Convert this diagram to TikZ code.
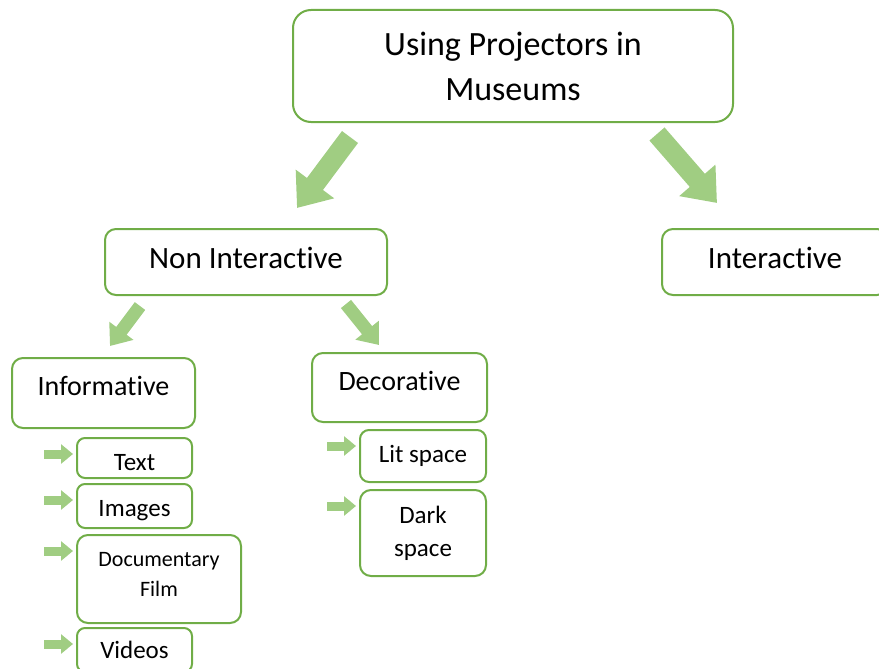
\documentclass[tikz,border=0pt]{standalone}
\usepackage{fontspec}
\setmainfont{Carlito}[Ligatures=NoCommon]
\usetikzlibrary{arrows.meta}
\definecolor{boxgreen}{RGB}{112,173,71}
\definecolor{arrowgreen}{RGB}{160,205,130}
\newcommand{\fsize}[2]{\fontsize{#1}{#2}\selectfont}

\begin{document}
\begin{tikzpicture}[x=1pt,y=-1pt,
  box/.style={draw=boxgreen, line width=2pt, rounded corners=11pt, align=center, inner sep=0pt},
  bigarrow/.style={draw=arrowgreen, line width=20pt, -{Triangle[width=46pt,length=30pt]}},
  midarrow/.style={draw=arrowgreen, line width=13pt, -{Triangle[width=29pt,length=19pt]}},
  tinyarrow/.style={draw=arrowgreen, line width=9pt, -{Triangle[width=19pt,length=12pt]}}]
\useasboundingbox (0,0) rectangle (879,669);
\clip (0,0) rectangle (879,669);
% top level
\node[box, rounded corners=18pt, minimum width=440pt, minimum height=112pt, font=\fsize{34}{45}] (top) at (513,66) {Using Projectors in\\Museums};
\node[box, minimum width=282pt, minimum height=66pt, text depth=8pt, font=\fsize{31}{38}] (ni) at (246,262) {Non Interactive};
\node[box, minimum width=226pt, minimum height=66pt, text depth=8pt, font=\fsize{31}{38}] (inter) at (775,262) {Interactive};
% second level
\node[box, minimum width=183pt, minimum height=70pt, text depth=14pt, font=\fsize{28}{34}] (info) at (103.5,393) {Informative};
\node[box, minimum width=175pt, minimum height=69pt, text depth=14pt, font=\fsize{28}{34}] (deco) at (399.5,387.5) {Decorative};
% leaves
\node[box, rounded corners=8pt, minimum width=115pt, minimum height=40pt, text height=26pt, font=\fsize{25}{30}] (txt) at (134.5,458) {Text};
\node[box, rounded corners=8pt, minimum width=115pt, minimum height=44pt, text height=26pt, font=\fsize{25}{30}] (img) at (134.5,506) {Images};
\node[box, minimum width=164pt, minimum height=88pt, text depth=10pt, font=\fsize{22}{30}] (doc) at (159,579) {Documentary\\Film};
\node[box, rounded corners=8pt, minimum width=115pt, minimum height=44pt, font=\fsize{25}{30}] (vid) at (134.5,650) {Videos};
\node[box, rounded corners=9pt, minimum width=126pt, minimum height=52pt, font=\fsize{25}{30}] (lit) at (423,456) {Lit space};
\node[box, minimum width=126pt, minimum height=86pt, font=\fsize{25}{33}] (dark) at (423,533) {Dark\\space};
% block arrows
\draw[bigarrow] ([shift={(58,14)}]top.south west) -- ([shift={(51,-20)}]ni.north);
\draw[bigarrow] ([shift={(-77,11)}]top.south east) -- ([shift={(-58,-25)}]inter.north);
\draw[midarrow] ([shift={(36,10)}]ni.south west) -- ([shift={(6.5,-11)}]info.north);
\draw[midarrow] ([shift={(-42,8)}]ni.south east) -- ([shift={(-20.5,-7)}]deco.north);
\foreach \leaf in {txt,img,doc,vid,lit,dark}
  \draw[tinyarrow] ([shift={(-32,17)}]\leaf.north west) -- ([shift={(-3,17)}]\leaf.north west);
\end{tikzpicture}
\end{document}
